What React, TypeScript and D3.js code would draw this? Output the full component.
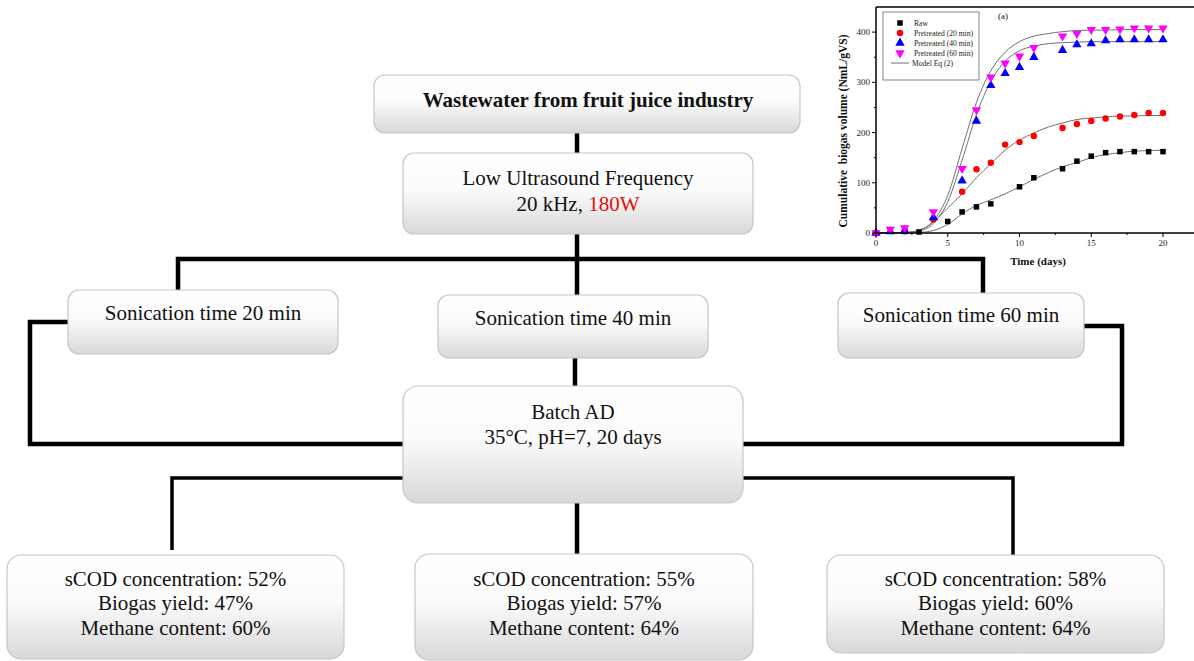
import React from 'react';
import * as d3 from 'd3';

// ---- inset chart data ----
const rawDays = [0, 2, 3, 5, 6, 7, 8, 10, 11, 13, 14, 15, 16, 17, 18, 19, 20];
const rawVals = [0, 3, 2, 23, 42, 52, 58, 92, 110, 128, 143, 153, 160, 162, 162, 162, 162];

const p20Days = [0, 2, 4, 6, 7, 8, 9, 10, 11, 13, 14, 15, 16, 17, 18, 19, 20];
const p20Vals = [0, 4, 27, 82, 127, 140, 176, 181, 193, 209, 217, 223, 228, 232, 235, 239, 239];

const p40Days = [0, 1, 2, 4, 6, 7, 8, 9, 10, 11, 13, 14, 15, 16, 17, 18, 19, 20];
const p40Vals = [0, 3, 5, 31, 104, 223, 294, 318, 330, 350, 364, 375, 377, 383, 385, 385, 385, 385];

const p60Days = [0, 1, 2, 4, 6, 7, 8, 9, 10, 11, 13, 14, 15, 16, 17, 18, 19, 20];
const p60Vals = [0, 7, 10, 42, 128, 245, 310, 338, 352, 369, 392, 397, 405, 405, 406, 408, 408, 408];

// model Eq (2) curves, read at whole days
const fitDays = [0, 2, 3, 4, 5, 6, 7, 8, 9, 10, 11, 12, 13, 14, 15, 16, 17, 18, 19, 20];
const fitRaw = [0, 0, 1, 5, 17, 38, 55, 66, 78, 92, 107, 120, 132, 140, 150, 156, 160, 163, 164, 165];
const fit20 = [0, 1, 5, 22, 50, 78, 110, 138, 165, 185, 199, 211, 219, 226, 229, 231, 233, 233, 234, 234];
const fit40 = [0, 1, 4, 19, 62, 145, 236, 302, 342, 363, 372, 377, 379, 380, 381, 381, 381, 381, 381, 381];
const fit60 = [0, 1, 6, 24, 75, 168, 260, 323, 360, 381, 392, 397, 401, 403, 404, 404, 405, 405, 405, 405];

const xTicks = [0, 5, 10, 15, 20];
const xMinor = [2.5, 7.5, 12.5, 17.5];
const yTicks = [0, 100, 200, 300, 400];
const yMinor = [50, 150, 250, 350];

const legendLabels = ['Raw', 'Pretreated (20 min)', 'Pretreated (40 min)', 'Pretreated (60 min)', 'Model Eq (2)'];

// ---- flowchart texts ----
const sonicTimes = [20, 40, 60];
const scodPct = [52, 55, 58];
const biogasPct = [47, 57, 60];
const methanePct = [60, 64, 64];

const SERIF = '"Liberation Serif", "Times New Roman", serif';

function Box({ x, y, w, h, r = 11 }) {
  return <rect x={x} y={y} width={w} height={h} rx={r} ry={r}
    fill="url(#boxGrad)" stroke="#c6c6c6" strokeWidth={1.2} />;
}

function Inset() {
  const x = d3.scaleLinear().domain([0, 22.5]).range([876, 876 + 22.5 * 14.35]);
  const y = d3.scaleLinear().domain([0, 450]).range([233, 7]);

  const line = d3.line().x(d => x(d[0])).y(d => y(d[1])).curve(d3.curveMonotoneX);
  const fits = [fitRaw, fit20, fit40, fit60];

  const tri = d3.symbol(d3.symbolTriangle, 38)();
  const sq = 5.5;

  const series = [
    { days: rawDays, vals: rawVals, kind: 'sq', color: '#000000' },
    { days: p20Days, vals: p20Vals, kind: 'circle', color: '#ff0000' },
    { days: p40Days, vals: p40Vals, kind: 'up', color: '#0000ff' },
    { days: p60Days, vals: p60Vals, kind: 'down', color: '#ff00ff' },
  ];

  const marker = (kind, color, cx, cy, key) => {
    if (kind === 'sq') return <rect key={key} x={cx - sq / 2} y={cy - sq / 2} width={sq} height={sq} fill={color} />;
    if (kind === 'circle') return <circle key={key} cx={cx} cy={cy} r={3.2} fill={color} />;
    if (kind === 'up') return <path key={key} d={tri} transform={`translate(${cx},${cy})`} fill={color} />;
    return <path key={key} d={tri} transform={`translate(${cx},${cy}) rotate(180)`} fill={color} />;
  };

  const x0 = x.range()[0], y0 = y.range()[0], yTop = y.range()[1];

  return (
    <g fontFamily={SERIF}>
      {fits.map((f, i) => (
        <path key={i} d={line(fitDays.map((d, j) => [d, f[j]]))} fill="none" stroke="#707070" strokeWidth={1} />
      ))}
      {series.map((s, i) => s.days.map((d, j) => marker(s.kind, s.color, x(d), y(s.vals[j]), `${i}-${j}`)))}

      {/* frame */}
      <line x1={x0} x2={1194} y1={yTop} y2={yTop} stroke="#000" strokeWidth={1.5} />
      <line x1={x0} x2={1194} y1={y0} y2={y0} stroke="#000" strokeWidth={1.5} />
      <line x1={x0} x2={x0} y1={yTop} y2={y0} stroke="#000" strokeWidth={1.5} />

      {xTicks.map(t => (
        <g key={t}>
          <line x1={x(t)} x2={x(t)} y1={y0} y2={y0 + 4} stroke="#000" />
          <text x={x(t)} y={y0 + 13} fontSize={9} textAnchor="middle" fill="#222">{t}</text>
        </g>
      ))}
      {xMinor.map(t => <line key={t} x1={x(t)} x2={x(t)} y1={y0} y2={y0 + 2} stroke="#000" />)}
      {yTicks.map(t => (
        <g key={t}>
          <line x1={x0 - 4} x2={x0} y1={y(t)} y2={y(t)} stroke="#000" />
          <text x={x0 - 6} y={y(t) + 3} fontSize={9} textAnchor="end" fill="#222">{t}</text>
        </g>
      ))}
      {yMinor.map(t => <line key={t} x1={x0 - 2} x2={x0} y1={y(t)} y2={y(t)} stroke="#000" />)}

      <text x={1038} y={265} fontSize={11} fontWeight="bold" textAnchor="middle" fill="#111">Time (days)</text>
      <text transform={`translate(847,${(y(0) + y(450)) / 2 + 11}) rotate(-90)`} fontSize={11.5} fontWeight="bold"
        textAnchor="middle" fill="#111" style={{ whiteSpace: 'pre' }}>Cumulative  biogas volume (NmL/gVS)</text>
      <text x={1003} y={19} fontSize={9} textAnchor="middle" fill="#111">(a)</text>

      {/* legend */}
      <rect x={883} y={12} width={96} height={68} fill="#fff" stroke="#666" strokeWidth={0.8} />
      {legendLabels.map((lab, i) => {
        const ly = 23 + i * 10;
        return (
          <g key={lab}>
            {i < 4
              ? marker(series[i].kind, series[i].color, 900, ly, 'lg' + i)
              : <line x1={891} x2={909} y1={ly} y2={ly} stroke="#707070" strokeWidth={1} />}
            <text x={i < 4 ? 914 : 912} y={ly + 3} fontSize={7.6} fill="#222">{lab}</text>
          </g>
        );
      })}
    </g>
  );
}

export default function App() {
  const lw = 4.5;
  const conn = (pts, w = lw) => (
    <polyline points={pts.map(p => p.join(',')).join(' ')} fill="none" stroke="#000" strokeWidth={w}
      strokeLinejoin="miter" />
  );

  const txt = { fontFamily: SERIF, fontSize: 21, fill: '#111', textAnchor: 'middle' as const };

  const sonicBoxes = [
    { x: 68, y: 290, w: 270, h: 64, ty: 320 },
    { x: 438, y: 295, w: 270, h: 63, ty: 325 },
    { x: 838, y: 293, w: 246, h: 65, ty: 322 },
  ];
  const resultBoxes = [
    { x: 7, y: 555, w: 337, h: 104 },
    { x: 415, y: 554, w: 338, h: 106 },
    { x: 827, y: 555, w: 337, h: 98 },
  ];

  return (
    <svg width={1194} height={661} style={{ position: 'absolute', left: 0, top: 0, background: '#fff' }}>
      <defs>
        <linearGradient id="boxGrad" x1="0" y1="0" x2="0" y2="1">
          <stop offset="0" stopColor="#ffffff" />
          <stop offset="0.45" stopColor="#fbfbfb" />
          <stop offset="1" stopColor="#d8d8d8" />
        </linearGradient>
      </defs>

      {/* connectors */}
      {conn([[577, 133], [577, 155]])}
      {conn([[577, 232], [577, 296]])}
      {conn([[178, 291], [178, 259], [983, 259], [983, 294]])}
      {conn([[70, 322], [30, 322], [30, 444], [405, 444]])}
      {conn([[1082, 326], [1122, 326], [1122, 444], [741, 444]])}
      {conn([[575, 356], [575, 388]])}
      {conn([[405, 478], [172, 478], [172, 550]], 3.5)}
      {conn([[741, 478], [1013, 478], [1013, 556]], 3.5)}
      {conn([[577, 501], [577, 556]])}

      {/* boxes */}
      <Box x={374} y={75} w={426} h={58} />
      <text {...txt} x={588} y={107} fontWeight="bold">Wastewater from fruit juice industry</text>

      <Box x={403} y={153} w={350} h={81} />
      <text {...txt} x={578} y={185}>Low Ultrasound Frequency</text>
      <text {...txt} x={578} y={211}>20 kHz, <tspan fill="#e01010">180W</tspan></text>

      {sonicBoxes.map((b, i) => (
        <g key={i}>
          <Box x={b.x} y={b.y} w={b.w} h={b.h} />
          <text {...txt} x={b.x + b.w / 2} y={b.ty}>Sonication time {sonicTimes[i]} min</text>
        </g>
      ))}

      <Box x={403} y={386} w={340} h={117} r={15} />
      <text {...txt} x={573} y={419}>Batch AD</text>
      <text {...txt} x={573} y={444}>35°C, pH=7, 20 days</text>

      {resultBoxes.map((b, i) => (
        <g key={i}>
          <Box x={b.x} y={b.y} w={b.w} h={b.h} r={14} />
          <text {...txt} x={b.x + b.w / 2} y={586}>sCOD concentration: {scodPct[i]}%</text>
          <text {...txt} x={b.x + b.w / 2} y={610}>Biogas yield: {biogasPct[i]}%</text>
          <text {...txt} x={b.x + b.w / 2} y={635}>Methane content: {methanePct[i]}%</text>
        </g>
      ))}

      <Inset />
    </svg>
  );
}
